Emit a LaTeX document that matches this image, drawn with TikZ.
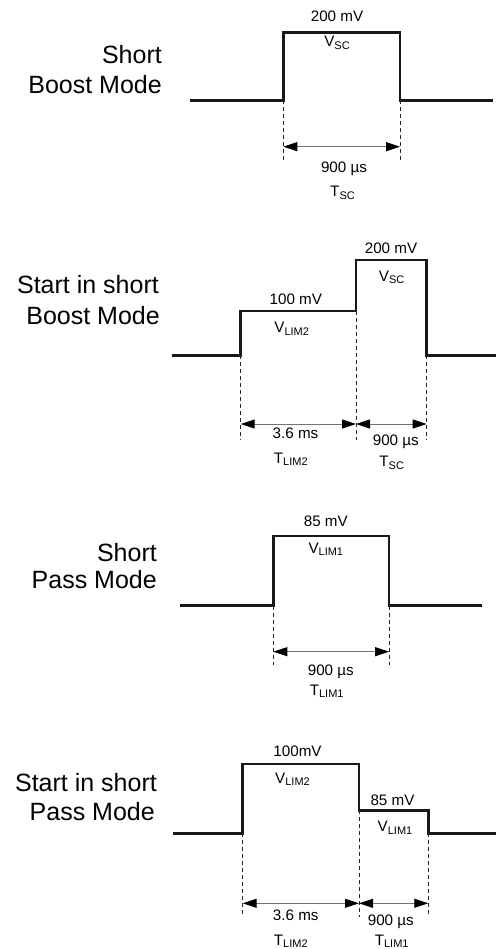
\documentclass[tikz,border=0pt]{standalone}
\usepackage{fontspec}
\setmainfont{Liberation Sans}
\usetikzlibrary{arrows.meta}
\newcommand{\sbs}[1]{{\fontsize{11}{12}\selectfont\raisebox{-2.5pt}{#1}}}
\begin{document}
\begin{tikzpicture}[x=1pt,y=-1pt,
  wave/.style={line width=2.7pt, color=black!90, line join=miter, line cap=butt},
  guide/.style={line width=0.9pt, color=black!85, dash pattern=on 4pt off 3pt},
  dimarrow/.style={line width=1pt, color=black!55,
    {Triangle[length=14pt,width=9pt,color=black]}-{Triangle[length=14pt,width=9pt,color=black]}},
  big/.style={font=\fontsize{25}{30}\selectfont, inner sep=0pt, anchor=base east},
  lbl/.style={font=\fontsize{15.2}{17}\selectfont, inner sep=0pt, anchor=base},
]
\useasboundingbox (0,0) rectangle (496,949);

% ---------------- Panel 1: Short Boost Mode ----------------
\node[big] (t1a) at (162,63.3) {Short};
\node[big] (t1b) at (162,93.3) {Boost Mode};
\coordinate (p1s) at (190,100.5);
\coordinate (p1r) at (283.3,100.5);
\coordinate (p1f) at (400,100.5);
\coordinate (p1e) at (493,100.5);
\draw[wave] (p1s) -- (p1r) -- (283.3,32.3) -- (400,32.3) -- (p1f) -- (p1e);
\coordinate (p1db) at (283.3,162);
\coordinate (p1dc) at (400,162);
\draw[guide] (p1r) -- (p1db);
\draw[guide] (p1f) -- (p1dc);
\coordinate (p1al) at (283.3,146.7);
\coordinate (p1ar) at (400,146.7);
\draw[dimarrow] (p1al) -- (p1ar);
\node[lbl] (v1a) at (337,21.7) {200 mV};
\node[lbl] (v1b) at (337,46.7) {V\sbs{SC}};
\node[lbl] (d1a) at (344,173) {900 µs};
\node[lbl] (d1b) at (342.5,196.7) {T\sbs{SC}};

% ---------------- Panel 2: Start in short Boost Mode ----------------
\node[big] (t2a) at (159,294) {Start in short};
\node[big] (t2b) at (160,324) {Boost Mode};
\coordinate (p2s) at (171.7,355.3);
\coordinate (p2r) at (240.7,355.3);
\coordinate (p2m) at (356,311);
\coordinate (p2f) at (426.7,355.3);
\coordinate (p2e) at (496,355.3);
\draw[wave] (p2s) -- (p2r) -- (240.7,311) -- (p2m) -- (356,260) -- (426.7,260) -- (p2f) -- (p2e);
\draw[guide] (p2r) -- (240.7,440);
\draw[guide] (p2m) -- (356,440);
\draw[guide] (p2f) -- (426.7,440);
\coordinate (p2al) at (240.7,424);
\coordinate (p2am) at (356,424);
\coordinate (p2ar) at (426.7,424);
\draw[dimarrow] (p2al) -- (p2am);
\draw[dimarrow] (p2am) -- (p2ar);
\node[lbl] (v2a) at (295.8,305) {100 mV};
\node[lbl] (v2b) at (291.7,332.7) {V\sbs{LIM2}};
\node[lbl] (v2c) at (391,253.3) {200 mV};
\node[lbl] (v2d) at (391.7,281) {V\sbs{SC}};
\node[lbl] (d2a) at (295.5,438.3) {3.6 ms};
\node[lbl] (d2b) at (290.8,463.3) {T\sbs{LIM2}};
\node[lbl] (d2c) at (395.8,445) {900 µs};
\node[lbl] (d2d) at (391.7,466.7) {T\sbs{SC}};

% ---------------- Panel 3: Short Pass Mode ----------------
\node[big] (t3a) at (157,561.7) {Short};
\node[big] (t3b) at (157,588.3) {Pass Mode};
\coordinate (p3s) at (180,605.7);
\coordinate (p3r) at (273.3,605.7);
\coordinate (p3f) at (389,605.7);
\coordinate (p3e) at (481.7,605.7);
\draw[wave] (p3s) -- (p3r) -- (273.3,536) -- (389,536) -- (p3f) -- (p3e);
\draw[guide] (p3r) -- (273.3,665);
\draw[guide] (p3f) -- (389,665);
\coordinate (p3al) at (273.3,651.7);
\coordinate (p3ar) at (389,651.7);
\draw[dimarrow] (p3al) -- (p3ar);
\node[lbl] (v3a) at (325.8,526.7) {85 mV};
\node[lbl] (v3b) at (325.8,553.3) {V\sbs{LIM1}};
\node[lbl] (d3a) at (330.8,675) {900 µs};
\node[lbl] (d3b) at (326.7,695) {T\sbs{LIM1}};

% ---------------- Panel 4: Start in short Pass Mode ----------------
\node[big] (t4a) at (157,791.7) {Start in short};
\node[big] (t4b) at (155,820) {Pass Mode};
\coordinate (p4s) at (173.3,833.3);
\coordinate (p4r) at (242.7,833.3);
\coordinate (p4m) at (359,810.3);
\coordinate (p4f) at (428.3,833.3);
\coordinate (p4e) at (496,833.3);
\draw[wave] (p4s) -- (p4r) -- (242.7,764) -- (359,764) -- (p4m) -- (428.3,810.3) -- (p4f) -- (p4e);
\draw[guide] (p4r) -- (242.7,917);
\draw[guide] (p4m) -- (359,917);
\draw[guide] (p4f) -- (428.3,917);
\coordinate (p4al) at (242.7,903.3);
\coordinate (p4am) at (359,903.3);
\coordinate (p4ar) at (428.3,903.3);
\draw[dimarrow] (p4al) -- (p4am);
\draw[dimarrow] (p4am) -- (p4ar);
\node[lbl] (v4a) at (297.5,756.7) {100mV};
\node[lbl] (v4b) at (292.5,783.3) {V\sbs{LIM2}};
\node[lbl] (v4c) at (392.5,805) {85 mV};
\node[lbl] (v4d) at (395,831.7) {V\sbs{LIM1}};
\node[lbl] (d4a) at (295.8,920) {3.6 ms};
\node[lbl] (d4b) at (290.8,945) {T\sbs{LIM2}};
\node[lbl] (d4c) at (390.8,925) {900 µs};
\node[lbl] (d4d) at (391.7,945) {T\sbs{LIM1}};
\end{tikzpicture}
\end{document}
